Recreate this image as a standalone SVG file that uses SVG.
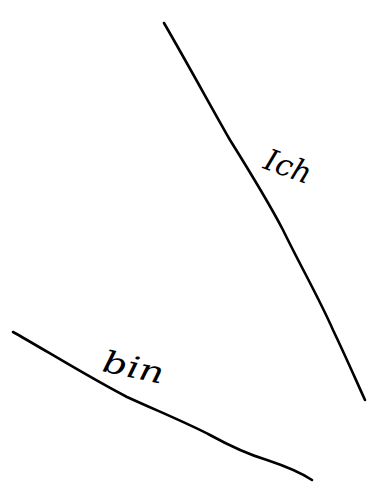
<svg xmlns="http://www.w3.org/2000/svg" width="378" height="491" viewBox="0 0 378 491">
<style>
.ln{fill:none;stroke:#000;stroke-width:2.6;stroke-linecap:round;stroke-linejoin:round}
.lb{font-family:"DejaVu Serif","Liberation Serif",serif;font-style:italic;font-size:30px;fill:#000}
</style>
<rect width="378" height="491" fill="#fff"/>
<g id="connectors">
<path class="ln" d="M164,23 C190,68 210,105 230,140 C250,172 270,205 283,230 C300,265 320,300 333,330 C345,355 355,378 365,400"/>
<path class="ln" d="M13,332 C40,347 90,378 127,397 C160,412 187,423 210,435 C230,446 250,455 267,460 C285,466 300,472 312,480"/>
</g>
<g id="label-ich"><text class="lb" transform="translate(262,168) rotate(20)" font-size="32">Ich</text></g>
<g id="label-bin"><text class="lb" transform="translate(101,371) rotate(12)" font-size="34" textLength="62" lengthAdjust="spacingAndGlyphs">bin</text></g>
</svg>
